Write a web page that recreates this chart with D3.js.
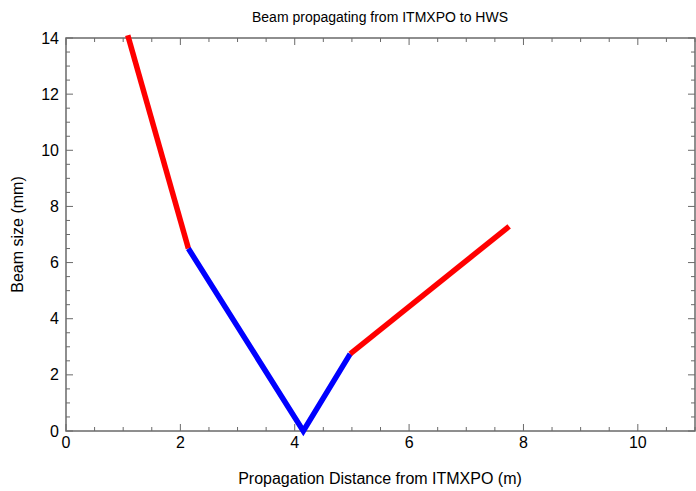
<!DOCTYPE html>
<html>
<head>
<meta charset="utf-8">
<style>
  body { margin: 0; background: #fff; }
  text { font-family: "Liberation Sans", Arial, sans-serif; }
</style>
</head>
<body>
<svg width="696" height="491"></svg>
<script src="https://d3js.org/d3.v7.min.js"></script>
<script>
// beam sections: [distance m, beam size mm]
var redA = [[1.08, 14.1], [2.14, 6.5]];
var blue = [[2.14, 6.5], [4.15, 0.0], [4.97, 2.75]];
var redB = [[4.97, 2.75], [7.75, 7.29]];
var xTicks = [0, 2, 4, 6, 8, 10];
var yTicks = [0, 2, 4, 6, 8, 10, 12, 14];

var svg = d3.select('svg');
var pl = 66, pr = 695, pt = 38, pb = 431;

var x = d3.scaleLinear().domain([0, 11]).range([pl, pr]);
var y = d3.scaleLinear().domain([0, 14]).range([pb, pt]);

var frameCol = '#6a6a6a';

// frame
svg.append('rect')
  .attr('x', pl).attr('y', pt)
  .attr('width', pr - pl).attr('height', pb - pt)
  .attr('fill', 'none').attr('stroke', frameCol).attr('stroke-width', 1.5);

// ticks (inward, on all four sides)
var xMinor = d3.range(0, 11.01, 0.5);
var yMinor = d3.range(0, 14.01, 0.5);
function isMajor(v) { return Math.abs(v / 2 - Math.round(v / 2)) < 1e-6; }

xMinor.forEach(function(v) {
  var len = isMajor(v) ? 7 : 4;
  svg.append('line').attr('x1', x(v)).attr('x2', x(v))
    .attr('y1', pb).attr('y2', pb - len)
    .attr('stroke', frameCol).attr('stroke-width', 1);
  svg.append('line').attr('x1', x(v)).attr('x2', x(v))
    .attr('y1', pt).attr('y2', pt + len)
    .attr('stroke', frameCol).attr('stroke-width', 1);
});
yMinor.forEach(function(v) {
  var len = isMajor(v) ? 7 : 4;
  svg.append('line').attr('x1', pl).attr('x2', pl + len)
    .attr('y1', y(v)).attr('y2', y(v))
    .attr('stroke', frameCol).attr('stroke-width', 1);
  svg.append('line').attr('x1', pr).attr('x2', pr - len)
    .attr('y1', y(v)).attr('y2', y(v))
    .attr('stroke', frameCol).attr('stroke-width', 1);
});

// tick labels
svg.selectAll('.xl').data(xTicks).enter().append('text')
  .attr('x', function(d) { return x(d); })
  .attr('y', pb + 17)
  .attr('text-anchor', 'middle')
  .attr('font-size', 16)
  .text(function(d) { return d; });

svg.selectAll('.yl').data(yTicks).enter().append('text')
  .attr('x', pl - 7)
  .attr('y', function(d) { return y(d) + 5.5; })
  .attr('text-anchor', 'end')
  .attr('font-size', 16)
  .text(function(d) { return d; });

// beam lines
var line = d3.line().x(function(d) { return x(d[0]); }).y(function(d) { return y(d[1]); });
svg.append('path').datum(redA).attr('d', line)
  .attr('fill', 'none').attr('stroke', '#ff0000').attr('stroke-width', 5.5);
svg.append('path').datum(blue).attr('d', line)
  .attr('fill', 'none').attr('stroke', '#0000ff').attr('stroke-width', 5.5)
  .attr('stroke-linejoin', 'miter');
svg.append('path').datum(redB).attr('d', line)
  .attr('fill', 'none').attr('stroke', '#ff0000').attr('stroke-width', 5.5);

// titles
svg.append('text')
  .attr('x', 380).attr('y', 22)
  .attr('text-anchor', 'middle').attr('font-size', 14)
  .text('Beam propagating from ITMXPO to HWS');

svg.append('text')
  .attr('x', 380).attr('y', 484)
  .attr('text-anchor', 'middle').attr('font-size', 16)
  .text('Propagation Distance from ITMXPO (m)');

svg.append('text')
  .attr('transform', 'translate(23,' + ((pt + pb) / 2) + ') rotate(-90)')
  .attr('text-anchor', 'middle').attr('font-size', 16)
  .text('Beam size (mm)');
</script>
</body>
</html>
